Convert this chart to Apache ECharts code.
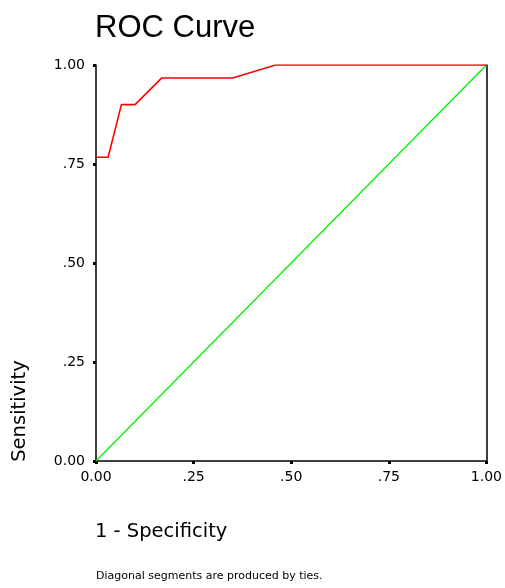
<!DOCTYPE html>
<html>
<head>
<meta charset="utf-8">
<script src="https://cdn.jsdelivr.net/npm/echarts@6/dist/echarts.min.js"></script>
<style>html,body{margin:0;padding:0;background:#fff}#c{width:505px;height:588px}</style>
</head>
<body>
<div id="c"></div>
<script>
var titleText = 'ROC Curve';
var xAxisTitle = '1 - Specificity';
var yAxisTitle = 'Sensitivity';
var footnote = 'Diagonal segments are produced by ties.';
var tickValues = [0, 0.25, 0.5, 0.75, 1];
var tickLabels = ['0.00', '.25', '.50', '.75', '1.00'];
var rocFpr = [0, 0.031, 0.048, 0.065, 0.10, 0.168, 0.35, 0.46, 1];
var rocTpr = [0.767, 0.767, 0.833, 0.9, 0.9, 0.967, 0.967, 1, 1];
var refFpr = [0, 1];
var refTpr = [0, 1];

function pairs(xs, ys) { return xs.map(function (x, i) { return [x, ys[i]]; }); }
function fmt(v) { var i = tickValues.indexOf(Math.round(v * 100) / 100); return i >= 0 ? tickLabels[i] : ''; }

var chart = echarts.init(document.getElementById('c'));
var axisLabel = { fontFamily: 'DejaVu Sans', fontSize: 14, color: '#000', formatter: fmt };
chart.setOption({
  animation: false,
  title: { text: titleText, left: 95, top: 13, padding: 0,
    textStyle: { fontFamily: 'Liberation Sans', fontSize: 31, fontWeight: 'normal', color: '#000' } },
  grid: { left: 96, right: 15, top: 65, bottom: 127 },
  xAxis: { type: 'value', min: 0, max: 1, interval: 0.25,
    axisLine: { show: true, lineStyle: { color: '#000', width: 1.5 } },
    axisTick: { show: true, length: 3, lineStyle: { color: '#000', width: 3 } },
    axisLabel: Object.assign({ margin: 9 }, axisLabel),
    splitLine: { show: false } },
  yAxis: [{ type: 'value', min: 0, max: 1, interval: 0.25,
    axisLine: { show: true, lineStyle: { color: '#000', width: 1.5 } },
    axisTick: { show: true, length: 3, lineStyle: { color: '#000', width: 3 } },
    axisLabel: Object.assign({ margin: 11 }, axisLabel),
    splitLine: { show: false } },
    { type: 'value', min: 0, max: 1, position: 'right',
    axisLine: { show: true, lineStyle: { color: '#000', width: 1.5 } },
    axisTick: { show: false }, axisLabel: { show: false }, splitLine: { show: false } }],
  series: [
    { type: 'line', data: pairs(refFpr, refTpr), showSymbol: false, z: 2,
      lineStyle: { color: '#00f000', width: 1.3 } },
    { type: 'line', data: pairs(rocFpr, rocTpr), showSymbol: false, z: 3,
      lineStyle: { color: '#ff0000', width: 1.6 } }
  ],
  graphic: [
    { type: 'text', x: 20, y: 411, rotation: Math.PI / 2,
      style: { text: yAxisTitle, fontFamily: 'DejaVu Sans', fontSize: 19.5, fill: '#000', align: 'center', verticalAlign: 'middle' } },
    { type: 'text', x: 95, y: 532,
      style: { text: xAxisTitle, fontFamily: 'DejaVu Sans', fontSize: 19.5, fill: '#000', align: 'left', verticalAlign: 'middle' } },
    { type: 'text', x: 96, y: 576,
      style: { text: footnote, fontFamily: 'DejaVu Sans', fontSize: 11, fill: '#000', align: 'left', verticalAlign: 'middle' } }
  ]
});
</script>
</body>
</html>
